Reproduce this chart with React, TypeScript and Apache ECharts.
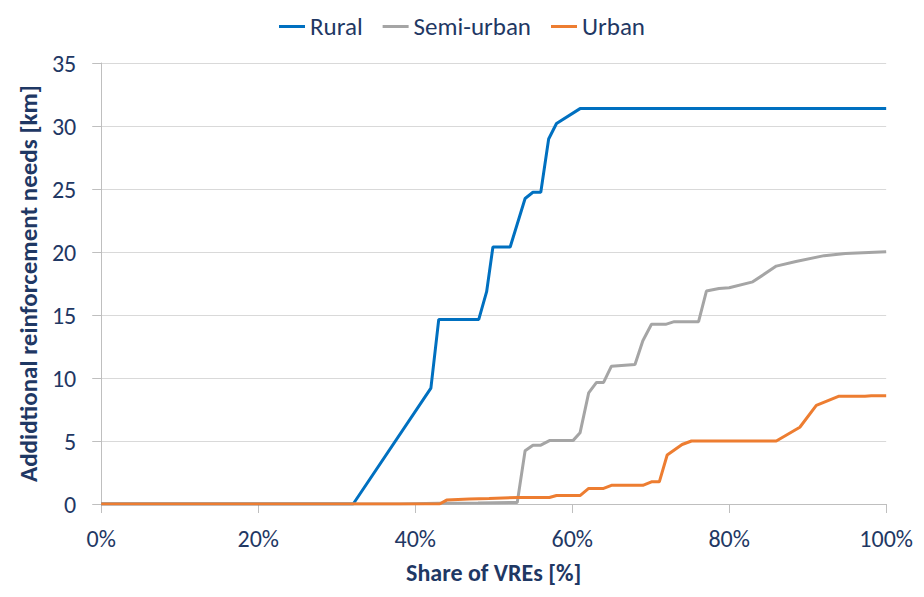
import React, { useEffect, useRef } from "react";
import * as echarts from "echarts";

const seriesNames = ["Rural", "Semi-urban", "Urban"];
const xTickLabels = ["0%", "20%", "40%", "60%", "80%", "100%"];

const ruralShare = [0, 32.1, 42.0, 43.0, 48.1, 49.1, 49.9, 52.1, 54.0, 55.0, 56.0, 57.0, 58.0, 61.0, 100];
const ruralKm = [0, 0, 9.2, 14.65, 14.65, 16.85, 20.4, 20.4, 24.25, 24.74, 24.74, 28.97, 30.2, 31.38, 31.38];

const semiShare = [0, 38, 43, 48, 53.0, 54.0, 55.0, 56.0, 57.1, 60.1, 61.0, 62.1, 63.1, 64.0, 65.0, 68.0, 69.0, 70.1, 71.9, 73.0, 76.1, 77.1, 78.7, 80.0, 83.0, 86.0, 88.5, 92.1, 94.8, 100];
const semiKm = [0, 0, 0.06, 0.08, 0.12, 4.23, 4.67, 4.67, 5.03, 5.03, 5.65, 8.82, 9.65, 9.65, 10.94, 11.07, 12.96, 14.26, 14.26, 14.47, 14.47, 16.9, 17.1, 17.16, 17.63, 18.88, 19.24, 19.71, 19.89, 20.02];

const urbanShare = [0, 43.1, 44.0, 46.9, 49.4, 53.1, 57.1, 58.0, 61.0, 62.1, 64.0, 65.0, 69.0, 70.1, 71.1, 72.1, 74.0, 75.2, 86.0, 89.0, 91.1, 94.0, 97.3, 98.1, 100];
const urbanKm = [0, 0, 0.31, 0.39, 0.44, 0.52, 0.52, 0.67, 0.67, 1.24, 1.24, 1.48, 1.48, 1.76, 1.76, 3.89, 4.72, 5.0, 5.0, 6.09, 7.83, 8.56, 8.56, 8.6, 8.6];

const colors = ["#0070C0", "#A5A5A5", "#ED7D31"];
const textColor = "#1F3864";
const font = "Carlito, Calibri, 'Open Sans', 'Noto Sans', sans-serif";

const pairs = (xs: number[], ys: number[]) => xs.map((x, i) => [x, ys[i]]);

export default function App() {
  const ref = useRef<HTMLDivElement>(null);
  useEffect(() => {
    if (!ref.current) return;
    const chart = echarts.init(ref.current, undefined, { renderer: "svg" });
    const data = [pairs(ruralShare, ruralKm), pairs(semiShare, semiKm), pairs(urbanShare, urbanKm)];
    chart.setOption({
      animation: false,
      textStyle: { fontFamily: font, color: textColor },
      legend: {
        top: 1,
        left: "center",
        icon: "rect",
        itemWidth: 26,
        itemHeight: 3,
        itemGap: 20,
        textStyle: { fontFamily: font, fontSize: 25, color: textColor },
        data: seriesNames,
      },
      grid: { left: 84, right: 24, top: 55, bottom: 76, containLabel: false },
      xAxis: {
        type: "value",
        min: 0,
        max: 100,
        interval: 20,
        name: "Share of VREs [%]",
        nameLocation: "middle",
        nameGap: 56,
        nameTextStyle: { fontFamily: font, fontSize: 24, fontWeight: "bold", color: textColor },
        axisLine: { show: true, lineStyle: { color: "#BFBFBF", width: 1 } },
        axisTick: { show: true, length: 9, lineStyle: { color: "#BFBFBF" } },
        splitLine: { show: false },
        axisLabel: {
          margin: 22,
          fontFamily: font,
          fontSize: 24,
          color: textColor,
          formatter: (v: number) => xTickLabels[Math.round(v / 20)] ?? "",
        },
      },
      yAxis: {
        type: "value",
        min: 0,
        max: 35,
        interval: 5,
        name: "Addidtional reinforcement needs [km]",
        nameLocation: "middle",
        nameRotate: 90,
        nameGap: 57,
        nameTextStyle: { fontFamily: font, fontSize: 25, fontWeight: "bold", color: textColor },
        axisLine: { show: true, lineStyle: { color: "#BFBFBF", width: 1 } },
        axisTick: { show: true, length: 9, lineStyle: { color: "#BFBFBF" } },
        splitLine: { show: true, lineStyle: { color: "#D9D9D9", width: 1 } },
        axisLabel: { margin: 25, fontFamily: font, fontSize: 24, color: textColor },
      },
      series: seriesNames.map((name, i) => ({
        name,
        type: "line",
        data: data[i],
        showSymbol: false,
        symbol: "none",
        lineStyle: { color: colors[i], width: 3 },
        itemStyle: { color: colors[i] },
        z: 2 + i,
      })),
    });
    return () => chart.dispose();
  }, []);
  return <div ref={ref} style={{ width: 908, height: 581 }} />;
}
